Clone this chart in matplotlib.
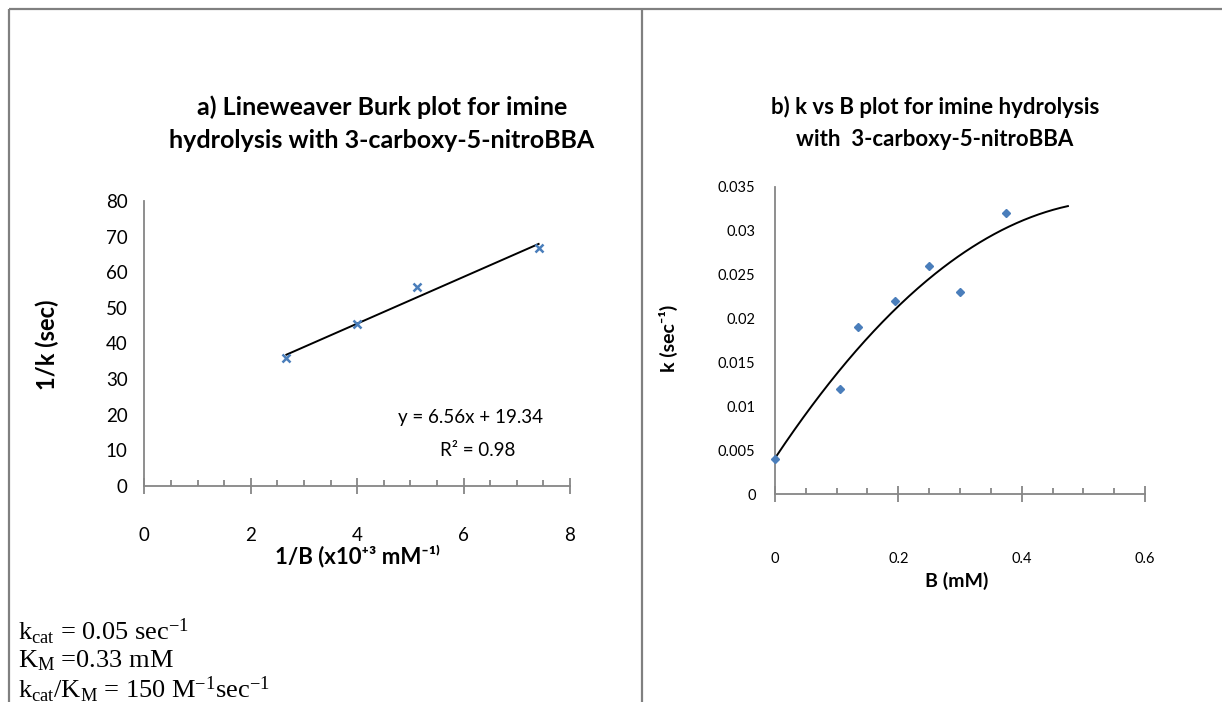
import numpy as np
import matplotlib
matplotlib.use('Agg')
import matplotlib.pyplot as plt
from matplotlib.lines import Line2D
from matplotlib.ticker import MultipleLocator

plt.rcParams['font.family'] = ['Lato', 'Noto Sans', 'DejaVu Sans']
plt.rcParams['mathtext.fontset'] = 'custom'
plt.rcParams['mathtext.rm'] = 'Liberation Serif'
plt.rcParams['mathtext.it'] = 'Liberation Serif:italic'

# Lineweaver-Burk data (1/B in x10^3 mM^-1, 1/k in sec)
inv_b = [2.67, 4.00, 5.13, 7.41]
inv_k = [35.8, 45.5, 55.8, 66.8]
lb_slope = 6.56
lb_intercept = 19.34
lb_r2 = 0.98

# k vs B data (B in mM, k in sec^-1)
b_conc = [0.0, 0.105, 0.135, 0.195, 0.25, 0.30, 0.375]
k_obs = [0.004, 0.012, 0.019, 0.022, 0.026, 0.023, 0.032]
trend_forward = 0.1

W, H = 1222, 702
fig = plt.figure(figsize=(W / 100, H / 100), dpi=100)
fig.patch.set_facecolor('white')

def px(x, y):
    return x / W, 1 - y / H

grey = '#868686'
blue = '#4A7EBB'

# table borders
for (x0, y0), (x1, y1) in [((8.5, 9), (W, 9)), ((8.5, 9), (8.5, H)), ((642, 9), (642, H))]:
    a, b = px(x0, y0)
    c, d = px(x1, y1)
    fig.add_artist(Line2D([a, c], [b, d], transform=fig.transFigure,
                          color='#808080', lw=1.6, solid_capstyle='butt'))


def style_axes(ax):
    for s in ['top', 'right']:
        ax.spines[s].set_visible(False)
    for s in ['left', 'bottom']:
        ax.spines[s].set_color(grey)
        ax.spines[s].set_linewidth(1.3)
    ax.tick_params(axis='y', length=0, colors='black')
    ax.tick_params(axis='x', which='major', direction='inout', length=11,
                   width=1.3, color=grey)
    ax.tick_params(axis='x', which='minor', direction='in', length=4,
                   width=1.3, color=grey)
    ax.patch.set_alpha(0)


# ---- a) Lineweaver-Burk plot ----
l, t = px(144.3, 201)
r, b = px(570, 486)
ax1 = fig.add_axes([l, b, r - l, t - b])
style_axes(ax1)
ax1.set_xlim(0, 8)
ax1.set_ylim(0, 80)
ax1.xaxis.set_major_locator(MultipleLocator(2))
ax1.xaxis.set_minor_locator(MultipleLocator(0.5))
ax1.yaxis.set_major_locator(MultipleLocator(10))
ax1.tick_params(axis='y', labelsize=13.5, pad=12)
ax1.tick_params(axis='x', labelsize=13.5, pad=24)

xfit = np.array([min(inv_b), max(inv_b)])
ax1.plot(xfit, lb_slope * xfit + lb_intercept, color='black', lw=1.4, zorder=2)
ax1.plot(inv_b, inv_k, linestyle='none', marker='x', ms=5.5, mew=1.8,
         color=blue, zorder=3)

fig.text(*px(470, 418), f'y = {lb_slope:.2f}x + {lb_intercept:.2f}',
         ha='center', va='center', fontsize=13.5)
fig.text(*px(478, 450), f'R² = {lb_r2:.2f}', ha='center', va='center', fontsize=13.5)

fig.text(*px(382, 107), 'a) Lineweaver Burk plot for imine', ha='center',
         va='center', fontsize=18, fontweight='bold')
fig.text(*px(382, 140), 'hydrolysis with 3-carboxy-5-nitroBBA', ha='center',
         va='center', fontsize=18, fontweight='bold')
fig.text(*px(47, 345), '1/k (sec)', rotation=90, ha='center', va='center',
         fontsize=17, fontweight='bold')
fig.text(*px(357, 556), '1/B (x10⁺³ mM⁻¹⁾', ha='center', va='center',
         fontsize=16, fontweight='bold')

# ---- b) k vs B plot ----
l, t = px(775, 187)
r, b = px(1145, 494)
ax2 = fig.add_axes([l, b, r - l, t - b])
style_axes(ax2)
ax2.set_xlim(0, 0.6)
ax2.set_ylim(0, 0.035)
ax2.xaxis.set_major_locator(MultipleLocator(0.2))
ax2.xaxis.set_minor_locator(MultipleLocator(0.05))
ax2.yaxis.set_major_locator(MultipleLocator(0.005))
ax2.xaxis.set_major_formatter(plt.FuncFormatter(lambda v, p: f'{v:g}'))
ax2.yaxis.set_major_formatter(plt.FuncFormatter(lambda v, p: f'{v:g}'))
ax2.tick_params(axis='y', labelsize=10.5, pad=14)
ax2.tick_params(axis='x', labelsize=10.5, pad=36)

coef = np.polyfit(b_conc, k_obs, 2)
xs = np.linspace(0, max(b_conc) + trend_forward, 200)
ax2.plot(xs, np.polyval(coef, xs), color='black', lw=1.4, zorder=2)
ax2.plot(b_conc, k_obs, linestyle='none', marker='D', ms=3.8, color=blue,
         zorder=3, clip_on=False)

fig.text(*px(935, 107), 'b) k vs B plot for imine hydrolysis', ha='center',
         va='center', fontsize=16, fontweight='bold')
fig.text(*px(935, 140), 'with  3-carboxy-5-nitroBBA', ha='center',
         va='center', fontsize=16, fontweight='bold')
fig.text(*px(668, 338), 'k (sec⁻¹)', rotation=90, ha='center', va='center',
         fontsize=14, fontweight='bold')
fig.text(*px(957, 581), 'B (mM)', ha='center', va='center',
         fontsize=14, fontweight='bold')

# ---- kinetic constants ----
serif = dict(family='Liberation Serif', fontsize=19, ha='left', va='center')
fig.text(*px(18, 632), r'$\mathrm{k_{cat}}$ = 0.05 sec$^{\mathrm{-1}}$', **serif)
fig.text(*px(18, 661), r'$\mathrm{K_{M}}$ =0.33 mM', **serif)
fig.text(*px(18, 690), r'$\mathrm{k_{cat}/K_{M}}$ = 150 M$^{\mathrm{-1}}$sec$^{\mathrm{-1}}$', **serif)

fig.savefig('out.png', dpi=100, facecolor='white')
